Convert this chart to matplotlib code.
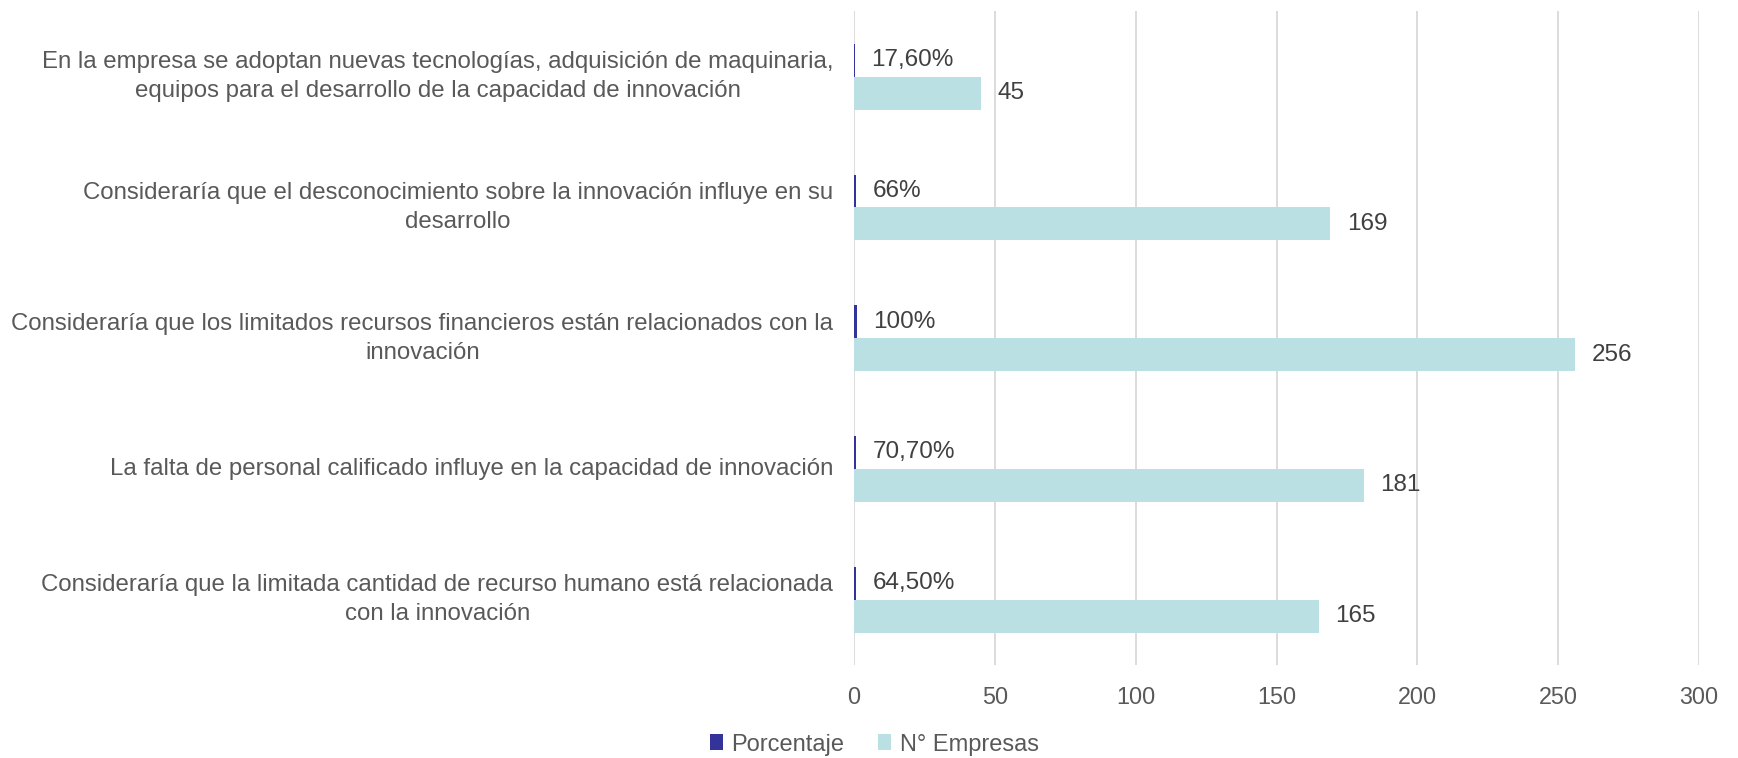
import matplotlib.pyplot as plt
import numpy as np

plt.rcParams['font.family'] = ['Liberation Sans', 'DejaVu Sans']

# datos (de abajo hacia arriba)
categorias = [
    "Consideraría que la limitada cantidad de recurso humano está relacionada\ncon la innovación",
    "La falta de personal calificado influye en la capacidad de innovación",
    "Consideraría que los limitados recursos financieros están relacionados con la\ninnovación",
    "Consideraría que el desconocimiento sobre la innovación influye en su\ndesarrollo",
    "En la empresa se adoptan nuevas tecnologías, adquisición de maquinaria,\nequipos para el desarrollo de la capacidad de innovación",
]
porcentaje = [0.645, 0.707, 1.0, 0.66, 0.176]
porcentaje_txt = ["64,50%", "70,70%", "100%", "66%", "17,60%"]
empresas = [165, 181, 256, 169, 45]

color_pct = "#333399"
color_emp = "#BAE0E3"
gris_oscuro = "#404040"
gris = "#595959"

fig = plt.figure(figsize=(17.38, 7.58), dpi=100)
ax = fig.add_axes([0.4914, 0.1227, 0.4862, 0.8623])

y = np.arange(len(categorias))
alto = 0.252

ax.barh(y + alto / 2, porcentaje, height=alto, color=color_pct, label="Porcentaje", zorder=3)
ax.barh(y - alto / 2, empresas, height=alto, color=color_emp, label="N° Empresas", zorder=3)

for i in range(len(categorias)):
    ax.annotate(porcentaje_txt[i], (porcentaje[i], y[i] + alto / 2), xytext=(12, 0),
                textcoords="offset points", va="center", ha="left",
                fontsize=17.5, color=gris_oscuro)
    ax.annotate(str(empresas[i]), (empresas[i], y[i] - alto / 2), xytext=(12, 0),
                textcoords="offset points", va="center", ha="left",
                fontsize=17.5, color=gris_oscuro)

ax.set_xlim(0, 300)
ax.set_ylim(-0.5, len(categorias) - 0.5)
ax.set_xticks(np.arange(0, 301, 50))
ax.set_yticks(y, categorias)
for lbl in ax.get_yticklabels():
    lbl.set_multialignment("center")
    lbl.set_linespacing(1.42)
    lbl.set_verticalalignment("center")

ax.tick_params(axis="x", length=0, pad=15, labelsize=16.8, labelcolor=gris)
ax.tick_params(axis="y", length=0, pad=15, labelsize=17.3, labelcolor=gris)
ax.grid(axis="x", color="#D9D9D9", linewidth=1.3, zorder=0)
for s in ax.spines.values():
    s.set_visible(False)

fig.legend(loc="lower center", bbox_to_anchor=(0.503, 0.0), ncol=2, frameon=False,
           fontsize=17, labelcolor=gris, handlelength=0.55, handleheight=0.65,
           handletextpad=0.35, columnspacing=1.45, borderaxespad=0, borderpad=0.1)

fig.savefig("out.png", dpi=100)
